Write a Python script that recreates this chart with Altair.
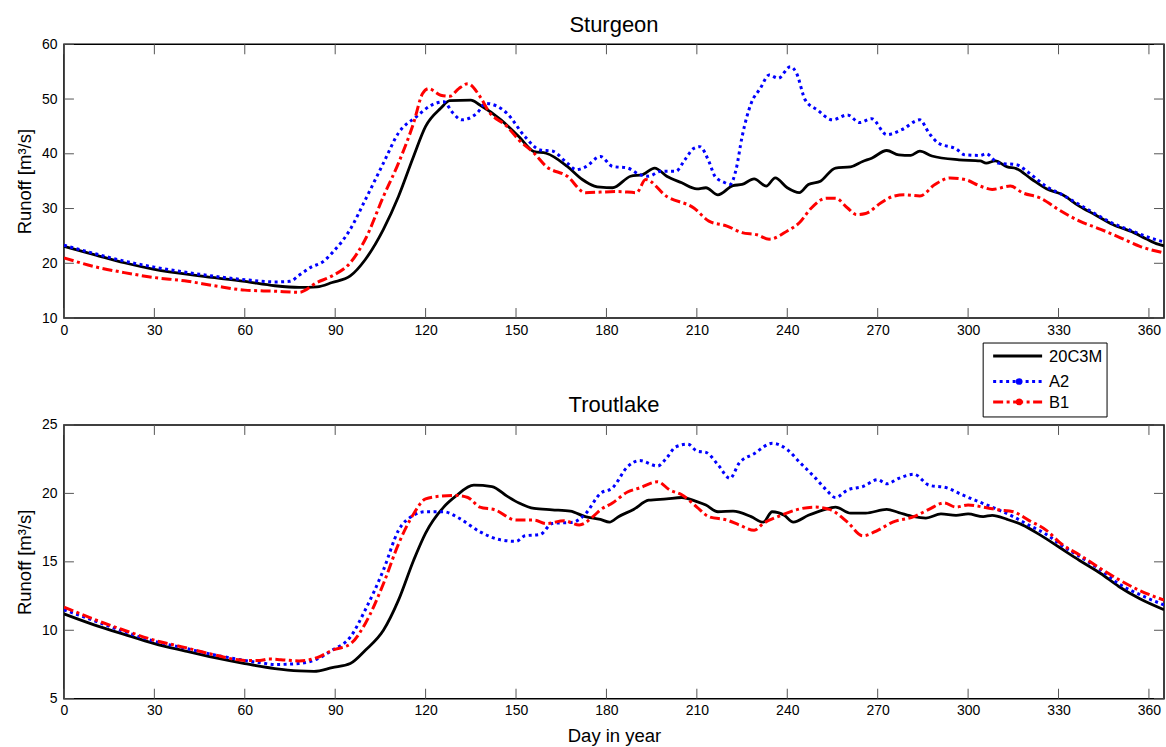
import altair as alt
import pandas as pd

# ---- shared settings -------------------------------------------------------
SERIES = ["20C3M", "A2", "B1"]
COLORS = {"20C3M": "#000000", "A2": "#0000ff", "B1": "#ff0000"}
WIDTHS = {"20C3M": 2.8, "A2": 3.0, "B1": 3.0}
DASHES = {"A2": [3, 3.5], "B1": [10, 3.5, 3, 3.5]}

X_TICKS = [0, 30, 60, 90, 120, 150, 180, 210, 240, 270, 300, 330, 360]
STURGEON_Y_TICKS = [10, 20, 30, 40, 50, 60]
TROUTLAKE_Y_TICKS = [5, 10, 15, 20, 25]

# ---- Sturgeon: mean daily runoff [m3/s] -------------------------------------
stur_20c3m_day = [0, 10, 20, 30, 45, 60, 70, 78, 84, 89, 95, 100, 106, 111, 116, 120, 125, 128,
                  135, 138, 145, 151, 156, 160, 167, 172, 176, 178, 182, 188, 192, 196, 200, 205,
                  210, 213, 217, 222, 225, 229, 233, 236, 240, 244, 247, 251, 256, 261, 265, 268,
                  273, 277, 281, 284, 288, 297, 304, 306, 309, 313, 316, 321, 326, 331, 337, 342,
                  348, 355, 359, 363, 365]
stur_20c3m_q = [23.1, 21.6, 20.1, 18.9, 17.7, 16.7, 15.9, 15.6, 15.7, 16.5, 17.7, 20.7, 26.2, 32.2,
                39.5, 45.0, 48.3, 49.7, 49.8, 48.9, 46.2, 43.1, 40.4, 40.1, 37.7, 35.3, 34.1, 33.9,
                33.8, 35.9, 36.2, 37.4, 35.9, 34.7, 33.6, 33.8, 32.5, 34.2, 34.4, 35.4, 34.1, 35.6,
                33.8, 32.9, 34.4, 35.0, 37.4, 37.6, 38.6, 39.2, 40.6, 39.8, 39.7, 40.5, 39.6, 38.9,
                38.7, 38.3, 38.7, 37.6, 37.3, 35.4, 33.6, 32.6, 30.4, 28.9, 27.1, 25.6, 24.5, 23.5,
                23.2]

stur_a2_day = [0, 10, 20, 30, 45, 60, 70, 75, 78, 82, 86, 89, 95, 100, 106, 111, 117, 122, 126,
               129, 132, 137, 140, 147, 153, 158, 162, 167, 170, 173, 178, 182, 187, 191, 194, 198,
               203, 206, 209, 211, 214, 216, 219, 221, 223, 225, 228, 231, 234, 237, 241, 243, 246,
               250, 255, 260, 264, 268, 273, 278, 284, 287, 290, 296, 299, 304, 306, 310, 316, 320,
               326, 331, 337, 342, 348, 355, 359, 365]
stur_a2_q = [23.3, 21.8, 20.4, 19.3, 18.0, 17.0, 16.6, 16.7, 17.8, 19.3, 20.3, 21.9, 26.2, 31.6,
             38.3, 43.8, 46.8, 48.9, 49.5, 47.5, 46.2, 47.4, 49.2, 47.4, 43.1, 40.7, 40.5, 38.3,
             37.1, 37.6, 39.5, 37.7, 37.4, 36.2, 35.9, 36.8, 36.8, 38.9, 41.0, 41.3, 38.6, 35.9,
             34.8, 34.4, 37.1, 43.1, 49.2, 51.9, 54.4, 53.8, 55.9, 54.8, 49.8, 48.0, 46.2, 47.1,
             45.7, 46.4, 43.5, 44.4, 46.2, 43.8, 42.0, 40.9, 39.8, 39.7, 40.0, 38.3, 38.0, 36.6,
             34.0, 32.6, 30.7, 29.1, 27.3, 25.8, 24.9, 23.9]

stur_b1_day = [0, 10, 20, 30, 40, 50, 60, 70, 78, 84, 89, 95, 100, 106, 111, 116, 119, 121, 125,
               128, 131, 134, 138, 141, 147, 151, 156, 160, 167, 173, 178, 184, 190, 193, 200, 209,
               214, 220, 225, 230, 234, 240, 244, 248, 253, 256, 260, 263, 266, 271, 275, 279, 284,
               289, 294, 299, 304, 308, 314, 318, 324, 330, 337, 344, 350, 357, 365]
stur_b1_q = [21.0, 19.4, 18.3, 17.4, 16.8, 15.9, 15.1, 14.9, 14.7, 16.5, 17.7, 20.1, 24.4, 32.2,
             38.3, 45.6, 51.0, 51.9, 50.7, 50.5, 51.9, 52.8, 50.5, 47.7, 45.0, 42.5, 40.1, 37.7,
             35.9, 32.9, 33.0, 33.1, 32.9, 35.3, 32.2, 30.1, 27.7, 26.8, 25.6, 25.2, 24.4, 25.9,
             27.4, 30.1, 31.9, 31.9, 30.1, 28.9, 29.1, 31.0, 32.2, 32.5, 32.3, 34.4, 35.6, 35.3,
             34.1, 33.5, 34.1, 32.9, 31.9, 29.8, 27.7, 26.2, 24.8, 23.1, 21.9]

# ---- Troutlake: mean daily runoff [m3/s] ------------------------------------
trout_20c3m_day = [0, 10, 20, 30, 40, 50, 60, 70, 78, 83, 89, 95, 100, 106, 111, 116, 120, 126,
                   130, 136, 142, 147, 151, 156, 162, 168, 173, 178, 181, 184, 189, 194, 200, 205,
                   210, 213, 217, 222, 228, 232, 235, 239, 242, 247, 252, 256, 261, 266, 273, 277,
                   282, 286, 291, 296, 300, 305, 308, 313, 318, 324, 330, 337, 344, 350, 357, 365]
trout_20c3m_q = [11.2, 10.4, 9.7, 9.03, 8.5, 8.0, 7.57, 7.2, 7.03, 7.0, 7.27, 7.57, 8.54, 10.0,
                 12.2, 15.1, 17.1, 19.0, 19.8, 20.6, 20.5, 19.8, 19.3, 18.9, 18.8, 18.7, 18.3,
                 18.1, 17.9, 18.3, 18.83, 19.5, 19.6, 19.7, 19.4, 19.15, 18.66, 18.7, 18.3, 17.9,
                 18.66, 18.4, 17.9, 18.4, 18.8, 19.0, 18.56, 18.56, 18.83, 18.6, 18.3, 18.2, 18.5,
                 18.4, 18.5, 18.3, 18.4, 18.1, 17.7, 16.95, 16.1, 15.1, 14.15, 13.2, 12.3, 11.5]

trout_a2_day = [0, 10, 20, 30, 40, 50, 60, 66, 70, 78, 84, 89, 95, 100, 106, 111, 116, 120, 126,
                131, 138, 145, 150, 153, 158, 162, 169, 173, 178, 182, 187, 191, 197, 200, 203,
                207, 210, 213, 217, 221, 224, 229, 235, 240, 244, 249, 253, 256, 260, 265, 270,
                273, 277, 282, 287, 293, 298, 304, 309, 315, 320, 326, 331, 337, 344, 350, 357,
                365]
trout_a2_q = [11.5, 10.7, 9.9, 9.2, 8.7, 8.2, 7.8, 7.6, 7.5, 7.57, 7.9, 8.54, 9.5, 11.5, 14.4,
              17.3, 18.4, 18.66, 18.66, 18.2, 17.2, 16.6, 16.5, 16.9, 17.0, 17.8, 17.9, 18.5,
              20.0, 20.4, 21.95, 22.4, 22.0, 22.6, 23.4, 23.6, 23.1, 23.0, 22.1, 21.1, 22.2, 22.9,
              23.66, 23.2, 22.3, 21.2, 20.25, 19.7, 20.25, 20.5, 21.0, 20.7, 21.1, 21.4, 20.6,
              20.4, 19.9, 19.35, 18.9, 18.3, 17.7, 17.0, 16.2, 15.4, 14.4, 13.4, 12.6, 11.85]

trout_b1_day = [0, 10, 20, 30, 40, 50, 60, 65, 68, 72, 78, 84, 89, 95, 100, 106, 111, 116, 120,
                125, 130, 134, 138, 143, 150, 156, 160, 166, 171, 176, 178, 182, 187, 191, 197,
                201, 205, 210, 214, 220, 224, 229, 232, 238, 243, 249, 254, 260, 265, 270, 275,
                282, 287, 292, 296, 300, 305, 310, 315, 320, 326, 331, 337, 344, 350, 357, 365]
trout_b1_q = [11.7, 10.8, 10.0, 9.27, 8.75, 8.2, 7.8, 7.8, 7.9, 7.85, 7.76, 8.0, 8.54, 9.0,
              10.5, 13.4, 16.3, 18.5, 19.6, 19.8, 19.85, 19.7, 19.0, 18.8, 18.05, 18.05, 17.8,
              18.0, 17.7, 18.4, 18.8, 19.3, 20.1, 20.4, 20.85, 20.25, 19.9, 19.0, 18.3, 18.05,
              17.7, 17.3, 17.8, 18.4, 18.8, 19.0, 18.83, 17.9, 16.9, 17.3, 17.9, 18.3, 18.83,
              19.3, 19.0, 19.15, 19.0, 18.8, 18.66, 18.05, 17.3, 16.3, 15.5, 14.5, 13.7, 12.9,
              12.2]

STURGEON = {
    "20C3M": (stur_20c3m_day, stur_20c3m_q),
    "A2": (stur_a2_day, stur_a2_q),
    "B1": (stur_b1_day, stur_b1_q),
}
TROUTLAKE = {
    "20C3M": (trout_20c3m_day, trout_20c3m_q),
    "A2": (trout_a2_day, trout_a2_q),
    "B1": (trout_b1_day, trout_b1_q),
}

W, H = 1101, 274
TICK_LEN = 10
TICK_COLOR = "#555555"
ONE_ROW = alt.Data(values=[{}])


def panel(title, series, y_domain, y_ticks, x_title, with_legend):
    x_scale = alt.Scale(domain=[0, 365], nice=False, zero=False)
    y_scale = alt.Scale(domain=y_domain, nice=False, zero=False)
    x_axis = alt.Axis(values=X_TICKS, title=x_title, ticks=False, domain=False, grid=False,
                      labelFlush=False, labelPadding=5, titlePadding=9)
    y_axis = alt.Axis(values=y_ticks, title="Runoff [m³/s]", ticks=False, domain=False,
                      grid=False, labelFlush=False, labelPadding=7, titlePadding=7)

    layers = []
    for name in SERIES:
        days, vals = series[name]
        df = pd.DataFrame({"day": days, "runoff": vals})
        mark_kw = dict(color=COLORS[name], strokeWidth=WIDTHS[name], strokeCap="butt",
                       interpolate="monotone", clip=True)
        if name in DASHES:
            mark_kw["strokeDash"] = DASHES[name]
        layers.append(
            alt.Chart(df).mark_line(**mark_kw).encode(
                x=alt.X("day:Q", scale=x_scale, axis=x_axis),
                y=alt.Y("runoff:Q", scale=y_scale, axis=y_axis),
            )
        )

    # inward-pointing tick marks on all four sides of the box
    xt = pd.DataFrame({"xt": X_TICKS})
    yt = pd.DataFrame({"yt": y_ticks})
    xenc = alt.X("xt:Q", scale=x_scale, axis=x_axis)
    yenc = alt.Y("yt:Q", scale=y_scale, axis=y_axis)
    rule = dict(color=TICK_COLOR, strokeWidth=1)
    layers += [
        alt.Chart(xt).mark_rule(**rule).encode(x=xenc, y=alt.value(H), y2=alt.value(H - TICK_LEN)),
        alt.Chart(xt).mark_rule(**rule).encode(x=xenc, y=alt.value(0), y2=alt.value(TICK_LEN)),
        alt.Chart(yt).mark_rule(**rule).encode(y=yenc, x=alt.value(0), x2=alt.value(TICK_LEN)),
        alt.Chart(yt).mark_rule(**rule).encode(y=yenc, x=alt.value(W - TICK_LEN), x2=alt.value(W)),
    ]

    # panel title, centred over the plot box
    layers.append(
        alt.Chart(ONE_ROW).mark_text(align="center", baseline="alphabetic", fontSize=22,
                                     color="black").encode(
            x=alt.value(W / 2), y=alt.value(-12.5), text=alt.value(title)
        )
    )

    if with_legend:
        bx0, bx1, by0, by1 = 920, 1044, 299, 373
        layers.append(
            alt.Chart(ONE_ROW).mark_rect(fill="white", stroke="black", strokeWidth=1).encode(
                x=alt.value(bx0), x2=alt.value(bx1), y=alt.value(by0), y2=alt.value(by1)
            )
        )
        rows = {"20C3M": 312, "A2": 337.5, "B1": 358}
        for name in SERIES:
            ly = rows[name]
            kw = dict(color=COLORS[name], strokeWidth=WIDTHS[name], strokeCap="butt")
            if name in DASHES:
                kw["strokeDash"] = DASHES[name]
            layers.append(
                alt.Chart(ONE_ROW).mark_rule(**kw).encode(
                    x=alt.value(930), x2=alt.value(979), y=alt.value(ly)
                )
            )
            if name in DASHES:
                layers.append(
                    alt.Chart(ONE_ROW).mark_point(filled=True, shape="circle", size=45,
                                                  opacity=1, color=COLORS[name]).encode(
                        x=alt.value(956), y=alt.value(ly)
                    )
                )
            layers.append(
                alt.Chart(ONE_ROW).mark_text(align="left", baseline="middle", fontSize=16.5,
                                             color="black").encode(
                    x=alt.value(986), y=alt.value(ly + 1), text=alt.value(name)
                )
            )

    return alt.layer(*layers).properties(width=W, height=H)


top = panel("Sturgeon", STURGEON, [10, 60], STURGEON_Y_TICKS, None, True)
bottom = panel("Troutlake", TROUTLAKE, [5, 25], TROUTLAKE_Y_TICKS, "Day in year", False)

chart = (
    alt.vconcat(top, bottom, spacing=107, bounds="flush")
    .properties(padding={"left": 14, "top": 12, "right": 0, "bottom": 0})
    .configure(font="Liberation Sans")
    .configure_view(stroke="black", strokeWidth=1.5)
    .configure_axis(labelFontSize=14, labelColor="black", titleFontSize=18.5,
                    titleColor="black", titleFontWeight="normal",
                    labelFont="Liberation Sans", titleFont="Liberation Sans")
)

chart.save("out.html", embed_options={"renderer": "svg", "actions": False})
